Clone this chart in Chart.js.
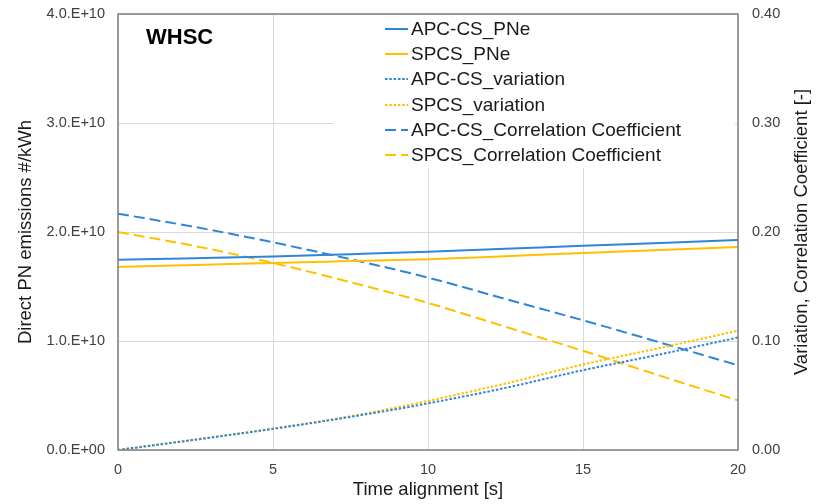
<!DOCTYPE html>
<html>
<head>
<meta charset="utf-8">
<script src="https://cdn.jsdelivr.net/npm/chart.js@4.4.1/dist/chart.umd.min.js"></script>
<style>
  html, body { margin: 0; padding: 0; background: #ffffff; }
  #wrap { width: 824px; height: 504px; position: relative; }
</style>
</head>
<body>
<div id="wrap"><canvas id="c" width="824" height="504"></canvas></div>
<script>
// ---- Data ----
const timeAlign = [0, 2.5, 5, 7.5, 10, 12.5, 15, 17.5, 20];
const apcPNe   = [1.746e10, 1.760e10, 1.776e10, 1.797e10, 1.819e10, 1.846e10, 1.874e10, 1.900e10, 1.927e10];
const spcsPNe  = [1.679e10, 1.697e10, 1.716e10, 1.733e10, 1.750e10, 1.778e10, 1.807e10, 1.835e10, 1.862e10];
const apcVar   = [0, 0.0095, 0.0194, 0.0304, 0.0428, 0.0570, 0.0732, 0.0878, 0.1032];
const spcsVar  = [0, 0.0096, 0.0196, 0.0310, 0.0450, 0.0610, 0.0784, 0.0937, 0.1095];
const apcCorr  = [0.2168, 0.2045, 0.1905, 0.1750, 0.1582, 0.1385, 0.1190, 0.0985, 0.0777];
const spcsCorr = [0.2000, 0.1870, 0.1716, 0.1540, 0.1349, 0.1130, 0.0910, 0.0680, 0.0455];

const seriesNames = ["APC-CS_PNe", "SPCS_PNe", "APC-CS_variation", "SPCS_variation",
                     "APC-CS_Correlation Coefficient", "SPCS_Correlation Coefficient"];
const leftTicks  = [0, 1e10, 2e10, 3e10, 4e10];
const rightTicks = [0, 0.1, 0.2, 0.3, 0.4];
const xTicks     = [0, 5, 10, 15, 20];
const panelLabel = "WHSC";
const xTitle = "Time alignment [s]";
const yTitle = "Direct PN emissions #/kWh";
const y1Title = "Variation, Correlation Coefficient [-]";

// ---- Styling ----
const BLUE = '#2E86D8';
const YELLOW = '#FFC000';
const FONT = "'Liberation Sans', Arial, sans-serif";
const DASH = [11, 5];
const DOT = [2.5, 1.8];

function pts(ys) { return timeAlign.map((x, i) => ({ x: x, y: ys[i] })); }

function sciLabel(v) {
  if (v === 0) return "0.0.E+00";
  const e = Math.floor(Math.log10(Math.abs(v)) + 1e-9);
  const m = v / Math.pow(10, e);
  return m.toFixed(1) + ".E+" + String(e).padStart(2, '0');
}

const dsStyle = [
  { color: BLUE,   dash: [],   axis: 'y'  },
  { color: YELLOW, dash: [],   axis: 'y'  },
  { color: BLUE,   dash: DOT,  axis: 'y1' },
  { color: YELLOW, dash: DOT,  axis: 'y1' },
  { color: BLUE,   dash: DASH, axis: 'y1' },
  { color: YELLOW, dash: DASH, axis: 'y1' }
];
const dsData = [apcPNe, spcsPNe, apcVar, spcsVar, apcCorr, spcsCorr];

const datasets = dsData.map((d, i) => ({
  label: seriesNames[i],
  data: pts(d),
  yAxisID: dsStyle[i].axis,
  borderColor: dsStyle[i].color,
  backgroundColor: dsStyle[i].color,
  borderDash: dsStyle[i].dash,
  borderWidth: 2,
  pointRadius: 0,
  tension: 0.4,
  cubicInterpolationMode: 'monotone',
  fill: false
}));

const overlay = {
  id: 'overlay',
  afterDraw(chart) {
    const ctx = chart.ctx;
    const a = chart.chartArea;
    ctx.save();
    // legend box (white, covering gridlines)
    ctx.fillStyle = '#ffffff';
    ctx.fillRect(333, a.top + 1, 402, 153);
    const rows = [29, 54, 79, 105, 130, 155];
    ctx.font = "19px " + FONT;
    ctx.textBaseline = 'middle';
    ctx.textAlign = 'left';
    rows.forEach((y, i) => {
      ctx.beginPath();
      ctx.setLineDash(dsStyle[i].dash);
      ctx.strokeStyle = dsStyle[i].color;
      ctx.lineWidth = 2;
      ctx.moveTo(385, y);
      ctx.lineTo(408, y);
      ctx.stroke();
      ctx.setLineDash([]);
      ctx.fillStyle = '#1a1a1a';
      ctx.fillText(seriesNames[i], 411, y + 1);
    });
    // plot border
    ctx.strokeStyle = '#808080';
    ctx.lineWidth = 1.5;
    ctx.strokeRect(a.left, a.top, a.right - a.left, a.bottom - a.top);
    // panel label
    ctx.fillStyle = '#000000';
    ctx.font = "bold 22px " + FONT;
    ctx.textBaseline = 'alphabetic';
    ctx.fillText(panelLabel, 146, 44);
    // right axis title (reads bottom to top)
    ctx.translate(802, 232);
    ctx.rotate(-Math.PI / 2);
    ctx.textAlign = 'center';
    ctx.textBaseline = 'middle';
    ctx.fillStyle = '#1a1a1a';
    ctx.font = "18.5px " + FONT;
    ctx.fillText(y1Title, 0, 0);
    ctx.restore();
  }
};

new Chart(document.getElementById('c'), {
  type: 'line',
  data: { datasets: datasets },
  plugins: [overlay],
  options: {
    responsive: false,
    animation: false,
    layout: { padding: { top: 14, left: 0, right: 0, bottom: 0 } },
    plugins: { legend: { display: false }, tooltip: { enabled: false } },
    scales: {
      x: {
        type: 'linear', min: 0, max: 20,
        afterBuildTicks: s => { s.ticks = xTicks.map(v => ({ value: v })); },
        afterFit: s => { s.height = 54; s.paddingLeft = 0; s.paddingRight = 0; },
        grid: { color: '#d9d9d9', lineWidth: 1, drawTicks: false },
        border: { display: false },
        ticks: { color: '#404040', font: { family: FONT, size: 14.5 }, padding: 11 },
        title: { display: true, text: xTitle, color: '#1a1a1a', font: { family: FONT, size: 18.5 }, padding: { top: 0, bottom: 3 } }
      },
      y: {
        type: 'linear', position: 'left', min: 0, max: 4e10,
        afterBuildTicks: s => { s.ticks = leftTicks.map(v => ({ value: v })); },
        afterFit: s => { s.width = 118; s.paddingTop = 0; s.paddingBottom = 0; },
        grid: { color: '#d9d9d9', lineWidth: 1, drawTicks: false },
        border: { display: false },
        ticks: { color: '#404040', font: { family: FONT, size: 14.5 }, padding: 13, callback: v => sciLabel(v) },
        title: { display: true, text: yTitle, color: '#1a1a1a', font: { family: FONT, size: 18.5 }, padding: { top: 15, bottom: 0 } }
      },
      y1: {
        type: 'linear', position: 'right', min: 0, max: 0.4,
        afterBuildTicks: s => { s.ticks = rightTicks.map(v => ({ value: v })); },
        afterFit: s => { s.width = 86; s.paddingTop = 0; s.paddingBottom = 0; },
        grid: { drawOnChartArea: false, drawTicks: false },
        border: { display: false },
        ticks: { color: '#404040', font: { family: FONT, size: 14.5 }, padding: 14, callback: v => Number(v).toFixed(2) }
      }
    }
  }
});
</script>
</body>
</html>
